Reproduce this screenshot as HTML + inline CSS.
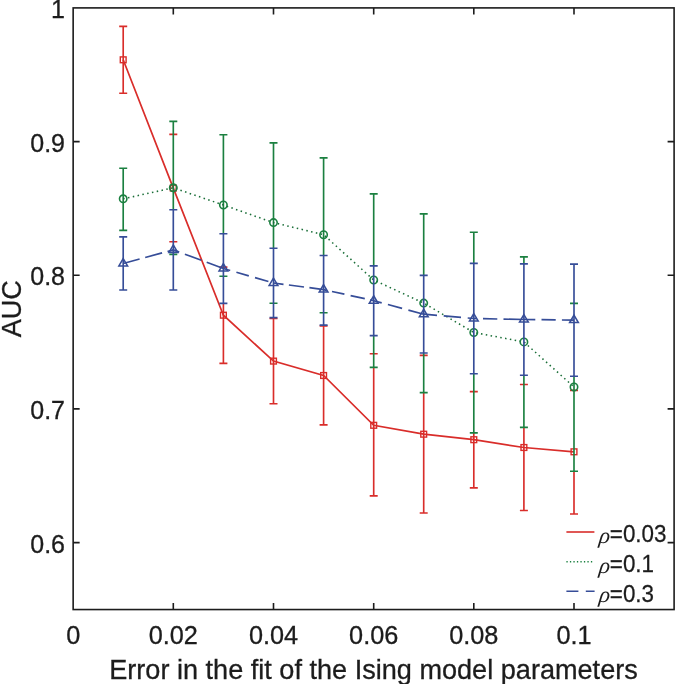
<!DOCTYPE html>
<html><head><meta charset="utf-8"><title>AUC vs error</title>
<style>html,body{margin:0;padding:0;background:#fff}body{width:675px;height:684px;overflow:hidden}</style>
</head><body>
<svg width="675" height="684" viewBox="0 0 675 684" style="display:block">
<rect width="675" height="684" fill="#fff"/>
<g stroke="#d92d2a" stroke-width="1.65" fill="none"><path d="M123.2 26.4V93.2M119.2 26.4h8.0M119.2 93.2h8.0"/><path d="M169.3 134.4h8.0M169.3 241.7h8.0"/><path d="M223.4 303.4V363.3M219.4 267.1h8.0M219.4 363.3h8.0"/><path d="M273.5 318.5V403.7M269.5 318.5h8.0M269.5 403.7h8.0"/><path d="M323.6 326.0V424.8M319.6 326.0h8.0M319.6 424.8h8.0"/><path d="M373.7 367.4V495.9M369.7 353.7h8.0M369.7 495.9h8.0"/><path d="M423.7 392.6V513.0M419.7 355.4h8.0M419.7 513.0h8.0"/><path d="M473.8 432.9V487.8M469.8 391.6h8.0M469.8 487.8h8.0"/><path d="M523.9 427.4V510.5M519.9 384.5h8.0M519.9 510.5h8.0"/><path d="M574.0 471.2V514.0M570.0 390.4h8.0M570.0 514.0h8.0"/></g>
<polyline points="123.2,59.8 173.3,188.1 223.4,315.2 273.5,361.1 323.6,375.5 373.7,425.3 423.7,434.2 473.8,439.7 523.9,447.5 574.0,451.8" fill="none" stroke="#d92d2a" stroke-width="1.7"/>
<g stroke="#d92d2a" stroke-width="1.4" fill="none"><rect x="120.3" y="56.9" width="5.8" height="5.8"/><rect x="170.4" y="185.2" width="5.8" height="5.8"/><rect x="220.5" y="312.3" width="5.8" height="5.8"/><rect x="270.6" y="358.2" width="5.8" height="5.8"/><rect x="320.7" y="372.6" width="5.8" height="5.8"/><rect x="370.8" y="422.4" width="5.8" height="5.8"/><rect x="420.8" y="431.3" width="5.8" height="5.8"/><rect x="470.9" y="436.8" width="5.8" height="5.8"/><rect x="521.0" y="444.6" width="5.8" height="5.8"/><rect x="571.1" y="448.9" width="5.8" height="5.8"/></g>
<g stroke="#1b8040" stroke-width="1.65" fill="none"><path d="M123.2 168.2V230.4M119.2 168.2h8.0M119.2 230.4h8.0"/><path d="M173.3 121.3V209.7M169.3 121.3h8.0M169.3 254.3h8.0"/><path d="M223.4 134.7V233.7M219.4 134.7h8.0M219.4 276.2h8.0"/><path d="M273.5 142.9V248.2M269.5 142.9h8.0M269.5 303.2h8.0"/><path d="M323.6 157.8V255.5M319.6 157.8h8.0M319.6 312.7h8.0"/><path d="M373.7 193.8V265.8M373.7 335.6V367.4M369.7 193.8h8.0M369.7 367.4h8.0"/><path d="M423.7 213.9V275.4M423.7 353.0V392.6M419.7 213.9h8.0M419.7 392.6h8.0"/><path d="M473.8 232.2V263.3M473.8 373.7V432.9M469.8 232.2h8.0M469.8 432.9h8.0"/><path d="M523.9 256.8V263.8M523.9 375.2V427.4M519.9 256.8h8.0M519.9 427.4h8.0"/><path d="M574.0 376.2V471.2M570.0 303.3h8.0M570.0 471.2h8.0"/></g>
<polyline points="123.2,198.8 173.3,187.8 223.4,205.0 273.5,222.6 323.6,234.7 373.7,280.0 423.7,303.1 473.8,332.5 523.9,341.9 574.0,387.0" fill="none" stroke="#1a6e38" stroke-width="1.55" stroke-dasharray="1.5 3.4"/>
<g stroke="#1b8040" stroke-width="1.6" fill="none"><circle cx="123.2" cy="198.8" r="3.7"/><circle cx="173.3" cy="187.8" r="3.7"/><circle cx="223.4" cy="205.0" r="3.7"/><circle cx="273.5" cy="222.6" r="3.7"/><circle cx="323.6" cy="234.7" r="3.7"/><circle cx="373.7" cy="280.0" r="3.7"/><circle cx="423.7" cy="303.1" r="3.7"/><circle cx="473.8" cy="332.5" r="3.7"/><circle cx="523.9" cy="341.9" r="3.7"/><circle cx="574.0" cy="387.0" r="3.7"/></g>
<g stroke="#364d98" stroke-width="1.65" fill="none"><path d="M123.2 236.9V290.0M119.2 236.9h8.0M119.2 290.0h8.0"/><path d="M173.3 209.7V290.0M169.3 209.7h8.0M169.3 290.0h8.0"/><path d="M223.4 233.7V303.4M219.4 233.7h8.0M219.4 303.4h8.0"/><path d="M273.5 248.2V317.6M269.5 248.2h8.0M269.5 317.6h8.0"/><path d="M323.6 255.5V325.1M319.6 255.5h8.0M319.6 325.1h8.0"/><path d="M373.7 265.8V335.6M369.7 265.8h8.0M369.7 335.6h8.0"/><path d="M423.7 275.4V353.0M419.7 275.4h8.0M419.7 353.0h8.0"/><path d="M473.8 263.3V373.7M469.8 263.3h8.0M469.8 373.7h8.0"/><path d="M523.9 263.8V375.2M519.9 263.8h8.0M519.9 375.2h8.0"/><path d="M574.0 264.1V376.2M570.0 264.1h8.0M570.0 376.2h8.0"/></g>
<path d="M123.2 263.5L139.6 259.0M145.2 257.5L162.1 252.9M167.5 251.5L173.3 249.9M173.3 249.9L179.2 252.1M184.9 254.2L201.4 260.3M206.7 262.3L223.4 268.5M223.4 268.5L230.2 270.5M236.4 272.3L248.8 275.9M255.0 277.6L268.4 281.5M273.5 283.0L283.5 284.3M288.9 285.0L304.0 287.0M309.4 287.7L323.6 289.6M323.6 289.6L326.6 290.3M332.0 291.5L344.4 294.2M350.6 295.6L364.8 298.7M370.2 299.9L373.7 300.7M373.7 300.7L381.7 302.9M387.9 304.5L402.1 308.4M408.4 310.1L423.7 314.2M423.7 314.2L437.0 315.3M443.7 315.9L461.0 317.4M467.7 318.0L473.8 318.5M473.8 318.5L476.8 318.6M483.0 318.7L497.3 319.0M503.5 319.1L523.9 319.5M523.9 319.5L535.3 319.6M541.5 319.7L555.7 319.9M561.9 320.0L574.0 320.1" fill="none" stroke="#364d98" stroke-width="1.7"/>
<g stroke="#364d98" stroke-width="1.55" fill="none" stroke-linejoin="miter"><path d="M123.2 258.55L127.59 265.95H118.89Z"/><path d="M173.3 244.95L177.67 252.35H168.97Z"/><path d="M223.4 263.55L227.75 270.95H219.06Z"/><path d="M273.5 278.05L277.84 285.45H269.14Z"/><path d="M323.6 284.65L327.93 292.05H319.23Z"/><path d="M373.7 295.75L378.01 303.15H369.31Z"/><path d="M423.7 309.25L428.10 316.65H419.39Z"/><path d="M473.8 313.55L478.18 320.95H469.48Z"/><path d="M523.9 314.55L528.26 321.95H519.56Z"/><path d="M574.0 315.15L578.35 322.55H569.65Z"/></g>
<g stroke="#1c1c1c" stroke-width="1.6" fill="none"><rect x="73.15" y="7.9" width="600.95" height="601.65"/><path d="M173.3 609.55v-6.5M173.3 7.9v6.5"/><path d="M273.5 609.55v-6.5M273.5 7.9v6.5"/><path d="M373.7 609.55v-6.5M373.7 7.9v6.5"/><path d="M473.8 609.55v-6.5M473.8 7.9v6.5"/><path d="M574.0 609.55v-6.5M574.0 7.9v6.5"/><path d="M73.15 141.6h6.5M674.1 141.6h-6.5"/><path d="M73.15 275.2h6.5M674.1 275.2h-6.5"/><path d="M73.15 408.9h6.5M674.1 408.9h-6.5"/><path d="M73.15 542.6h6.5M674.1 542.6h-6.5"/></g>
<g font-family="'Liberation Sans', Arial, sans-serif" font-size="25.3" fill="#1c1c1c" stroke="#1c1c1c" stroke-width="0.3"><text x="73.2" y="643.5" text-anchor="middle">0</text><text x="173.3" y="643.5" text-anchor="middle">0.02</text><text x="273.5" y="643.5" text-anchor="middle">0.04</text><text x="373.7" y="643.5" text-anchor="middle">0.06</text><text x="473.8" y="643.5" text-anchor="middle">0.08</text><text x="574.0" y="643.5" text-anchor="middle">0.1</text><text x="65" y="18.0" text-anchor="end" font-size="25">1</text><text x="65" y="151.7" text-anchor="end" font-size="25">0.9</text><text x="65" y="285.3" text-anchor="end" font-size="25">0.8</text><text x="65" y="419.0" text-anchor="end" font-size="25">0.7</text><text x="65" y="552.7" text-anchor="end" font-size="25">0.6</text></g>
<g font-family="'Liberation Sans', Arial, sans-serif" font-size="27.1" fill="#1c1c1c" stroke="#1c1c1c" stroke-width="0.3"><text x="373.5" y="678.5" text-anchor="middle">Error in the fit of the Ising model parameters</text><text transform="translate(20.5 308.7) rotate(-90)" text-anchor="middle">AUC</text></g>
<path d="M566.4 532.0H594.4" stroke="#d92d2a" stroke-width="1.6"/><path d="M566.4 561.8H592.2" stroke="#1b8040" stroke-width="1.45" stroke-dasharray="1.3 2.2"/><path d="M566.4 591.2H594.6" stroke="#364d98" stroke-width="1.6" stroke-dasharray="12 7.4"/><g font-family="'Liberation Sans', Arial, sans-serif" font-size="23.6" fill="#1c1c1c" stroke="#1c1c1c" stroke-width="0.25"><text transform="translate(598.5 542.9) skewX(-7)" font-family="'Liberation Serif', serif" font-style="italic" font-size="22.6" stroke-width="0">ρ</text><text transform="translate(609.8 542.0) scale(0.95 1)">=0.03</text><text transform="translate(598.5 572.6) skewX(-7)" font-family="'Liberation Serif', serif" font-style="italic" font-size="22.6" stroke-width="0">ρ</text><text transform="translate(609.8 571.7) scale(0.95 1)">=0.1</text><text transform="translate(598.5 602.4) skewX(-7)" font-family="'Liberation Serif', serif" font-style="italic" font-size="22.6" stroke-width="0">ρ</text><text transform="translate(609.8 601.5) scale(0.95 1)">=0.3</text></g>
</svg>
</body></html>
